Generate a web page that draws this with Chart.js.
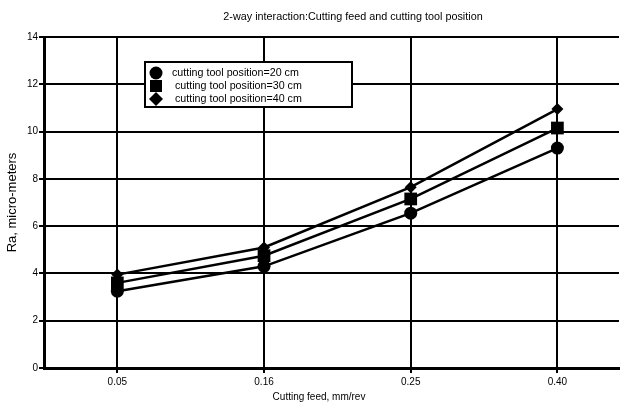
<!DOCTYPE html>
<html>
<head>
<meta charset="utf-8">
<script src="https://cdn.jsdelivr.net/npm/chart.js@4.4.1/dist/chart.umd.min.js"></script>
<style>
  html, body { margin: 0; padding: 0; background: #fff; }
  #wrap { width: 628px; height: 413px; }
</style>
</head>
<body>
<div id="wrap"><canvas id="chart" width="628" height="413"></canvas></div>
<script>
// ==========================================
// DATA
// ==========================================
const feeds = ['0.05', '0.16', '0.25', '0.40'];

const pos20 = [3.25, 4.3, 6.55, 9.3];   // cutting tool position = 20 cm
const pos30 = [3.6, 4.75, 7.15, 10.15]; // cutting tool position = 30 cm
const pos40 = [3.95, 5.1, 7.65, 10.95]; // cutting tool position = 40 cm

const seriesNames = [
    'cutting tool position=20 cm',
    'cutting tool position=30 cm',
    'cutting tool position=40 cm'
];
const yTicks = [0, 2, 4, 6, 8, 10, 12, 14];

const FONT = '"Liberation Sans", Arial, sans-serif';

function toPoints(arr) {
    return arr.map((v, i) => ({ x: i, y: v }));
}

// ==========================================
// PLUGINS: titles + boxed legend
// ==========================================
const titlePlugin = {
    id: 'topTitle',
    afterDraw(chart) {
        const ctx = chart.ctx;
        ctx.save();
        ctx.fillStyle = '#000';
        ctx.textAlign = 'center';
        ctx.textBaseline = 'middle';
        ctx.font = '10.8px ' + FONT;
        ctx.fillText('2-way interaction:Cutting feed and cutting tool position', 353, 17);
        ctx.font = '10px ' + FONT;
        ctx.fillText('Cutting feed, mm/rev', 319, 397);
        ctx.restore();
    }
};

const legendPlugin = {
    id: 'boxLegend',
    afterDraw(chart) {
        const ctx = chart.ctx;
        ctx.save();
        ctx.fillStyle = '#fff';
        ctx.fillRect(145, 62, 207, 45);
        ctx.strokeStyle = '#000';
        ctx.lineWidth = 2;
        ctx.strokeRect(145, 62, 207, 45);

        const rows = [73, 86, 99];
        const textX = [172, 175, 175];
        const radii = [6.5, 8.5, 7];
        chart.data.datasets.forEach((ds, i) => {
            ctx.fillStyle = '#000';
            Chart.helpers.drawPoint(ctx, {
                pointStyle: ds.pointStyle,
                radius: radii[i],
                borderWidth: 0
            }, 156, rows[i]);
            ctx.fillStyle = '#000';
            ctx.font = '10.7px ' + FONT;
            ctx.textAlign = 'left';
            ctx.textBaseline = 'middle';
            ctx.fillText(seriesNames[i], textX[i], rows[i]);
        });
        ctx.restore();
    }
};

// ==========================================
// CHART
// ==========================================
const styles = ['circle', 'rect', 'rectRot'];
const radius = [6.5, 9, 6];
const datasets = [pos20, pos30, pos40].map((arr, i) => ({
    label: seriesNames[i],
    data: toPoints(arr),
    borderColor: '#000',
    backgroundColor: '#000',
    borderWidth: 2.5,
    pointStyle: styles[i],
    pointRadius: radius[i],
    pointBorderWidth: 0,
    tension: 0
}));

new Chart(document.getElementById('chart'), {
    type: 'line',
    data: { datasets: datasets },
    options: {
        responsive: false,
        animation: false,
        layout: { padding: { top: 37, right: 0, left: 0, bottom: 0 } },
        plugins: {
            legend: { display: false },
            tooltip: { enabled: false }
        },
        scales: {
            x: {
                type: 'linear',
                min: -0.5,
                max: 3.42,
                afterBuildTicks(scale) {
                    scale.ticks = feeds.map((f, i) => ({ value: i }));
                },
                afterFit(scale) { scale.height = 45; },
                ticks: {
                    color: '#000',
                    font: { size: 10, family: FONT },
                    padding: 3,
                    maxRotation: 0,
                    callback: (v) => feeds[v]
                },
                grid: { color: '#000', lineWidth: 2, tickLength: 5 },
                border: { color: '#000', width: 3 }
            },
            y: {
                min: 0,
                max: 14,
                afterBuildTicks(scale) {
                    scale.ticks = yTicks.map(v => ({ value: v }));
                },
                afterFit(scale) { scale.width = 44; },
                ticks: {
                    color: '#000',
                    font: { size: 10, family: FONT },
                    padding: 1
                },
                grid: { color: '#000', lineWidth: 2, tickLength: 5 },
                border: { color: '#000', width: 3 },
                title: {
                    display: true,
                    text: 'Ra, micro-meters',
                    color: '#000',
                    font: { size: 13, family: FONT },
                    padding: { top: 5, bottom: 2 }
                }
            }
        }
    },
    plugins: [titlePlugin, legendPlugin]
});
</script>
</body>
</html>
